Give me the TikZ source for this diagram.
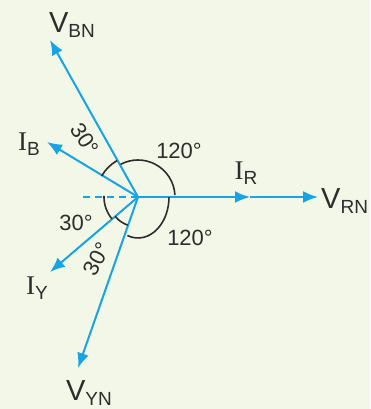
\documentclass[tikz,border=0pt]{standalone}
\usepackage{fontspec}
\setmainfont{Liberation Sans}
\newfontfamily\serifI{Liberation Serif}
\usetikzlibrary{arrows.meta}
\definecolor{bgc}{RGB}{243,247,232}
\definecolor{vblue}{RGB}{22,164,228}
\definecolor{txt}{RGB}{45,45,45}
\tikzset{
  vec/.style={draw=vblue, line width=2pt, -{Latex[length=15pt,width=12pt]}},
  angarc/.style={draw=txt, line width=1.6pt},
  lbl/.style={text=txt, font=\fontsize{22}{22}\selectfont, inner sep=0pt},
  vlbl/.style={text=txt, inner sep=0pt},
}
\newcommand{\Vsub}[1]{{\fontsize{29}{29}\selectfont V}\raisebox{-5pt}{\fontsize{19}{19}\selectfont #1}}
\newcommand{\Isub}[1]{{\serifI\fontsize{27}{27}\selectfont I}\raisebox{-5pt}{\fontsize{19}{19}\selectfont #1}}
\begin{document}
\begin{tikzpicture}[x=1pt,y=1pt]
\fill[bgc] (0,0) rectangle (370,409);
\useasboundingbox (0,0) rectangle (370,409);
\coordinate (O) at (138,212);
\coordinate (VRN) at (318,212);
\coordinate (IR) at (250,212);
\coordinate (VBN) at (50,369);
\coordinate (IB) at (47,267);
\coordinate (IY) at (50,137);
\coordinate (VYN) at (78,41);
\coordinate (D) at (82,212);
% dashed reference
\draw[vblue, line width=2pt, dash pattern=on 7pt off 5pt] (O) -- (D);
% phasors
\draw[vec] (O) -- (IR);
\draw[vec] (IR) -- (VRN);
\draw[vec] (O) -- (VBN);
\draw[vec] (O) -- (IB);
\draw[vec] (O) -- (IY);
\draw[vec] (O) -- (VYN);
% angle arcs
\draw[angarc] ([shift={(3:37)}]O) arc[start angle=3, end angle=118, radius=37];
\draw[angarc] ([shift={(250:31 and 41)}]O) arc[start angle=250, end angle=360, x radius=31, y radius=41];
\draw[angarc] ([shift={(120:42)}]O) arc[start angle=120, end angle=150, radius=42];
\draw[angarc] ([shift={(178:34)}]O) arc[start angle=178, end angle=220, radius=34];
\draw[angarc] ([shift={(220:30)}]O) arc[start angle=220, end angle=250, radius=30];
% labels
\node[vlbl] (lVBN) at (72,384) {\Vsub{BN}};
\node[vlbl] (lIB) at (29,265) {\Isub{B}};
\node[lbl, rotate=-57] (a1) at (85,270) {30°};
\node[lbl] (a2) at (179,258) {120°};
\node[vlbl] (lIR) at (246,236) {\Isub{R}};
\node[vlbl, anchor=west] (lVRN) at (321,208) {\Vsub{RN}};
\node[lbl] (a3) at (190,171) {120°};
\node[lbl] (a4) at (76,186) {30°};
\node[lbl, rotate=62] (a5) at (97,150) {30°};
\node[vlbl] (lIY) at (37,121) {\Isub{Y}};
\node[vlbl] (lVYN) at (89,16) {\Vsub{YN}};
\end{tikzpicture}
\end{document}
